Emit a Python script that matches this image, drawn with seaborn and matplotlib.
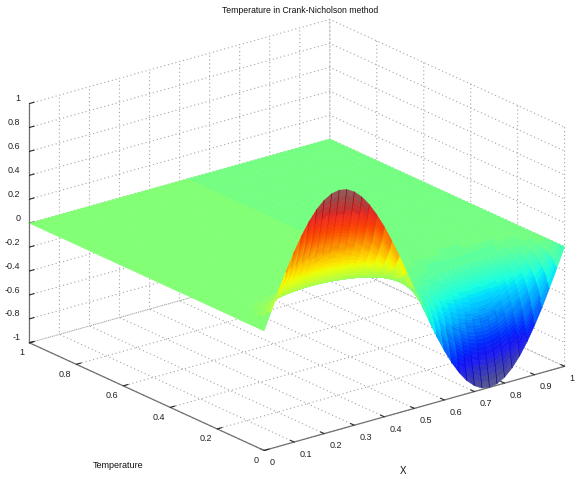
import numpy as np
import seaborn as sns
import matplotlib
matplotlib.use("Agg")
import matplotlib.pyplot as plt
from mpl_toolkits.mplot3d.art3d import Line3DCollection

sns.set_theme(style="white")
plt.rcParams['font.family'] = ['Liberation Sans', 'DejaVu Sans']

x_vals = [0, .025, .05, .075, .1, .125, .15, .175, .2, .225, .25, .275, .3, .325, .35, .375, .4, .425, .45, .475, .5,
          .525, .55, .575, .6, .625, .65, .675, .7, .725, .75, .775, .8, .825, .85, .875, .9, .925, .95, .975, 1]
profile = [0, .156, .309, .454, .588, .707, .809, .891, .951, .988, 1, .988, .951, .891, .809, .707, .588, .454, .309, .156, 0,
           -.156, -.309, -.454, -.588, -.707, -.809, -.891, -.951, -.988, -1, -.988, -.951, -.891, -.809, -.707, -.588, -.454, -.309, -.156, 0]
t_vals = [0, .0025, .005, .0075, .01, .0125, .015, .0175, .02, .0225, .025, .0275, .03, .0325, .035, .0375, .04, .0425, .045, .0475,
          .05, .0525, .055, .0575, .06, .0625, .065, .0675, .07, .0725, .075, .0775, .08, .0825, .085, .0875, .09, .0925, .095, .0975,
          .1, .1025, .105, .1075, .11, .1125, .115, .1175, .12, .1225, .125, .15, .175, .2, .25, .3, .35, .4, .5, .6, .7, .8, .9, 1]
decay = [1, .952, .906, .862, .821, .781, .743, .708, .674, .641, .61, .581, .553, .526, .501, .477, .454, .432, .411, .391,
         .373, .355, .338, .321, .306, .291, .277, .264, .251, .239, .227, .216, .206, .196, .187, .178, .169, .161, .153, .146,
         .139, .132, .126, .12, .114, .108, .103, .098, .094, .089, .085, .052, .032, .019, .007, .003, .001, .0004, .0002, .0001, .0001, .0001, .0001, .0001]
x_ticks = [0, .1, .2, .3, .4, .5, .6, .7, .8, .9, 1]
y_ticks = [0, .2, .4, .6, .8, 1]
z_ticks = [-1, -.8, -.6, -.4, -.2, 0, .2, .4, .6, .8, 1]

X, T = np.meshgrid(np.array(x_vals), np.array(t_vals))
Z = np.outer(decay, profile)

cmap = plt.get_cmap('jet', 64)
level = np.clip(np.floor((Z + 1) / 2 * 64), 0, 63) / 63
colors = cmap(level)
fade = np.clip((np.abs(Z) - .65) / .35, 0, 1)[..., None] * .5
faces = colors.copy()
faces[..., :3] = colors[..., :3] * (1 - fade) + .68 * fade

fig = plt.figure(figsize=(5.81, 4.79), dpi=100)
ax = fig.add_axes([0, -.004, 1, 1], projection='3d', proj_type='ortho')
ax.view_init(elev=21, azim=-128)
ax.set_box_aspect((1, 1, .672), zoom=1.21)
ax.set_xlim(0, 1, view_margin=0)
ax.set_ylim(0, 1, view_margin=0)
ax.set_zlim(-1, 1, view_margin=0)

surf = ax.plot_surface(X, T, Z, rstride=1, cstride=1, facecolors=faces, shade=False,
                       linewidth=.4, antialiased=True)
surf.set_edgecolor(surf._facecolor3d)
surf.set_clip_on(False)

segs, seg_cols = [], []
for j in range(Z.shape[1]):
    for i in range(Z.shape[0] - 1):
        if abs(Z[i, j]) > .45:
            segs.append([(X[i, j], T[i, j], Z[i, j]), (X[i + 1, j], T[i + 1, j], Z[i + 1, j])])
            c = colors[i, j].copy()
            c[:3] *= .85
            seg_cols.append(c)
wires = Line3DCollection(segs, colors=seg_cols, linewidths=.4)
ax.add_collection3d(wires)
wires.set_clip_on(False)

ax.set_xticks(x_ticks)
ax.set_yticks(y_ticks)
ax.set_zticks(z_ticks)
ax.set_xticklabels(['0', '0.1', '0.2', '0.3', '0.4', '0.5', '0.6', '0.7', '0.8', '0.9', '1'], ha='left')
ax.set_yticklabels(['0', '0.2', '0.4', '0.6', '0.8', '1'], ha='right')
ax.set_zticklabels(['-1', '-0.8', '-0.6', '-0.4', '-0.2', '0', '0.2', '0.4', '0.6', '0.8', '1'], ha='right', va='bottom')
ax.tick_params(labelsize=6.5, labelcolor='#222222')
ax.tick_params(axis='x', pad=-4)
ax.tick_params(axis='y', pad=-5)
ax.tick_params(axis='z', pad=-5)

for axis in (ax.xaxis, ax.yaxis, ax.zaxis):
    axis.set_pane_color((1, 1, 1, 1))
    axis.pane.set_edgecolor('white')
    axis.line.set_color('#707070')
    axis.line.set_linewidth(.9)
    axis._axinfo['grid'].update(color='#a4a4a4', linewidth=.8, linestyle=(0, (1, 2.5)))
    axis._axinfo['tick'].update(inward_factor=0, outward_factor=.2, color='#707070',
                                linewidth={True: .8, False: .5})
ax.grid(True)

ax.set_xlabel('')
ax.set_ylabel('')
fig.text(.203, .029, 'Temperature', fontsize=6.5, ha='center', va='center', color='#111111')
fig.text(.694, .017, 'X', fontsize=7, ha='center', va='center', color='#111111')
fig.text(.516, .979, 'Temperature in Crank-Nicholson method', fontsize=6.2, ha='center', va='center', color='#111111')

fig.savefig('out.png', dpi=100)
